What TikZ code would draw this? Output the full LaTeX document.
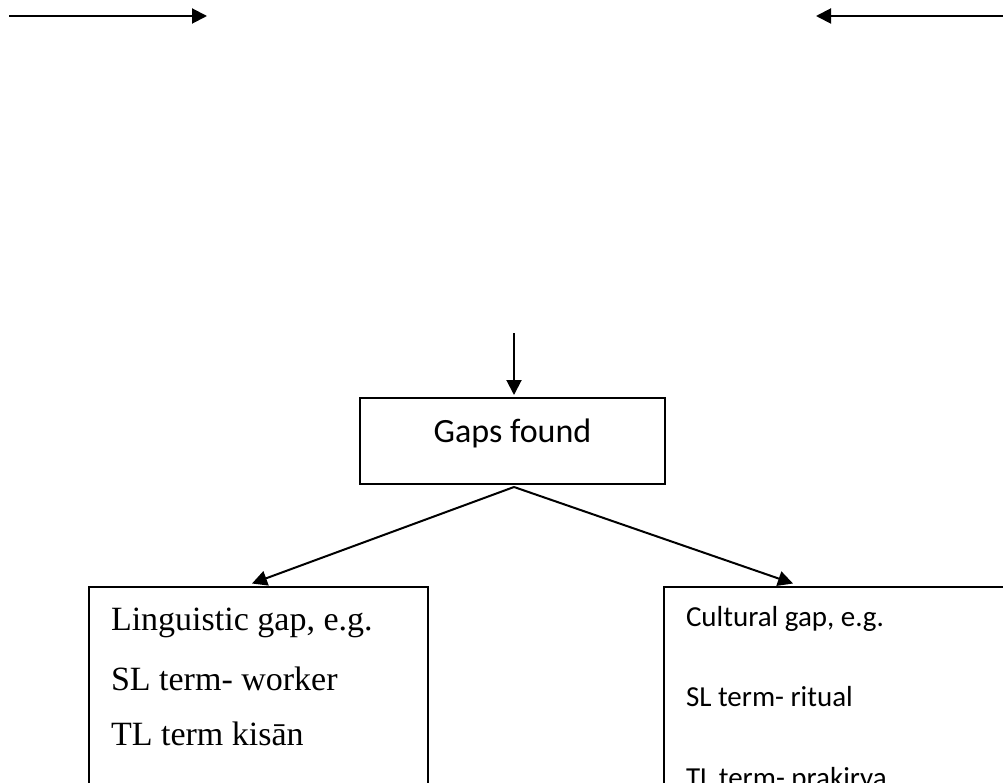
\documentclass[tikz,border=0pt]{standalone}
\usepackage{fontspec}
\setmainfont{Liberation Serif}
\newfontfamily\calibri{Carlito}
\usetikzlibrary{arrows.meta}
\begin{document}
\begin{tikzpicture}[x=1pt,y=-1pt,line width=2pt,
  arr/.style={-{Triangle[length=15pt,width=15pt]}},
  boxst/.style={draw,rectangle,inner sep=0pt,outer sep=0pt,anchor=north west},
  sertxt/.style={anchor=base west,inner sep=0pt,font=\fontsize{34}{40}\selectfont},
  caltxt/.style={anchor=base west,inner sep=0pt,font=\calibri\fontsize{29}{34}\selectfont}]
\useasboundingbox (0,0) rectangle (1003,783);
\clip (0,0) rectangle (1003,783);
% top arrows
\coordinate (tlA) at (9,16);
\coordinate (tlB) at (207,16);
\coordinate (trA) at (1003,16);
\coordinate (trB) at (816,16);
\draw[arr] (tlA) -- (tlB);
\draw[arr] (trA) -- (trB);
% gaps box
\node[boxst,minimum width=305pt,minimum height=86pt] (gaps) at (360,398) {};
\node[anchor=base,inner sep=0pt,font=\calibri\fontsize{34}{40}\selectfont] (gapstxt) at (512.5,442.7) {Gaps found};
\coordinate (vtop) at (514,333);
\draw[arr,shorten >=3pt] (vtop) -- (vtop |- gaps.north);
% lower boxes
\node[boxst,minimum width=339pt,minimum height=260pt] (lbox) at (89,587) {};
\node[boxst,minimum width=400pt,minimum height=260pt] (rbox) at (664,587) {};
\draw[arr] ([xshift=1.5pt,yshift=-3pt]gaps.south) -- ([xshift=-6.5pt,yshift=3.5pt]lbox.north);
\draw[arr] ([xshift=1.5pt,yshift=-3pt]gaps.south) -- ([xshift=129pt,yshift=3.5pt]rbox.north west);
% left texts
\node[sertxt] (l1) at (110,630.5) {Linguistic gap, e.g.};
\node[sertxt] (l2) at (110,690) {SL term- worker};
\node[sertxt] (l3) at (110,745) {TL term kisān};
% right texts
\node[caltxt] (r1) at (685,626.7) {Cultural gap, e.g.};
\node[caltxt] (r2) at (685,706.7) {SL term- ritual};
\node[caltxt] (r3) at (685,787) {TL term- prakirya};
\end{tikzpicture}
\end{document}
